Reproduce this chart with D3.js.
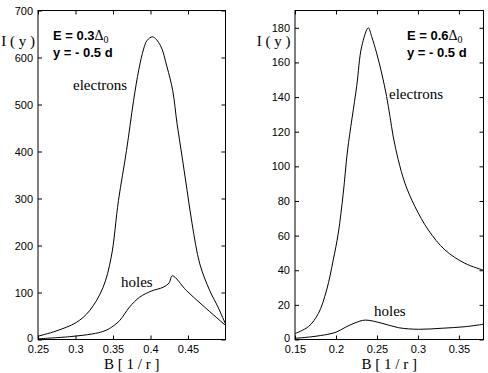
<!DOCTYPE html>
<meta charset="utf-8">
<head>
<script src="https://d3js.org/d3.v7.min.js"></script>
<style>
  body { margin: 0; background: #fff; }
  .tick text { font-family: "Liberation Sans", Arial, sans-serif; font-size: 11px; }
  .serif { font-family: "Liberation Serif", "Times New Roman", serif; font-size: 15px; }
  .bold { font-family: "Liberation Sans", Arial, sans-serif; font-size: 13px; font-weight: bold; }
</style>
</head>
<body>
<svg width="488" height="373"></svg>
<script>
// left panel: E = 0.3 Delta0
var leftElectronsB = [0.25, 0.274, 0.3008, 0.3186, 0.3365, 0.3476, 0.3573, 0.368, 0.3774, 0.3845, 0.3908, 0.3953, 0.4028, 0.4131, 0.422, 0.4296, 0.4354, 0.4422, 0.4488, 0.4555, 0.4657, 0.479, 0.490, 0.5];
var leftElectronsI = [7, 18, 36, 61, 110, 175, 296, 402, 508, 575, 618, 636, 644, 626, 580, 530, 459, 388, 317, 246, 161, 104, 69, 33];
var leftHolesB = [0.25, 0.292, 0.323, 0.3365, 0.345, 0.3587, 0.372, 0.3855, 0.401, 0.4167, 0.4247, 0.4291, 0.448, 0.470, 0.5];
var leftHolesI = [1.5, 6, 12, 17, 23, 40, 69, 90, 103, 111, 120, 135.5, 104, 72, 30];

// right panel: E = 0.6 Delta0
var rightElectronsB = [0.15, 0.1663, 0.1785, 0.1886, 0.1967, 0.2028, 0.2089, 0.2142, 0.2252, 0.2313, 0.2394, 0.2435, 0.2496, 0.2557, 0.2618, 0.2659, 0.2699, 0.276, 0.2841, 0.2963, 0.3126, 0.333, 0.3573, 0.38];
var rightElectronsI = [3.4, 7.4, 15, 28.6, 46, 61.4, 84.5, 109.5, 146, 169, 180, 175, 165.4, 153.9, 140.3, 128.8, 117, 103.8, 90.3, 76.8, 63.3, 51.7, 44, 40];
var rightHolesB = [0.15, 0.1707, 0.19, 0.2, 0.2113, 0.2232, 0.2357, 0.256, 0.2765, 0.3009, 0.3293, 0.3577, 0.38];
var rightHolesI = [0.7, 1.6, 3, 4.2, 7, 9.6, 11.2, 9.4, 6.8, 5.9, 6.5, 7.4, 8.8];

var leftXTicks = [0.25, 0.3, 0.35, 0.4, 0.45];
var leftYTicks = [0, 100, 200, 300, 400, 500, 600, 700];
var rightXTicks = [0.15, 0.2, 0.25, 0.3, 0.35];
var rightYTicks = [0, 20, 40, 60, 80, 100, 120, 140, 160, 180];

var svg = d3.select("svg");

function panel(opt) {
  var x = d3.scaleLinear().domain(opt.xDomain).range([opt.left, opt.right]);
  var y = d3.scaleLinear().domain(opt.yDomain).range([339.5, 10.5]);
  var g = svg.append("g");
  var fmt = function(d) { return String(d); };

  // ticks point inward, matlab style
  g.append("g").attr("transform", "translate(0,339.5)")
    .call(d3.axisBottom(x).tickValues(opt.xTicks).tickSize(-4).tickPadding(6).tickFormat(fmt));
  g.append("g").attr("transform", "translate(0,10.5)")
    .call(d3.axisTop(x).tickValues(opt.xTicks).tickSize(-4).tickFormat(""));
  var yAx = g.append("g").attr("transform", "translate(" + opt.left + ",0)")
    .call(d3.axisLeft(y).tickValues(opt.yTicks).tickSize(-4).tickPadding(5).tickFormat(fmt));
  // lift the zero label a bit so it clears the x labels
  yAx.selectAll(".tick text").filter(function(d) { return d === 0; }).attr("y", -2);
  g.append("g").attr("transform", "translate(" + opt.right + ",0)")
    .call(d3.axisRight(y).tickValues(opt.yTicks).tickSize(-4).tickFormat(""));
  g.selectAll(".domain").remove();
  g.selectAll(".tick line").attr("stroke", "#000");
  g.selectAll(".tick text").attr("fill", "#000");

  g.append("rect")
    .attr("x", opt.left).attr("y", 10.5)
    .attr("width", opt.right - opt.left).attr("height", 329)
    .attr("fill", "none").attr("stroke", "#000");

  var line = d3.line()
    .x(function(d) { return x(d[0]); })
    .y(function(d) { return y(d[1]); })
    .curve(d3.curveCatmullRom.alpha(0.5));

  opt.series.forEach(function(s) {
    g.append("path")
      .datum(d3.zip(s[0], s[1]))
      .attr("d", line)
      .attr("fill", "none")
      .attr("stroke", "#000")
      .attr("stroke-width", 1);
  });

  g.append("text").attr("class", "serif")
    .attr("x", opt.yLabelX).attr("y", 46).attr("text-anchor", "end")
    .text("I ( y )");
  g.append("text").attr("class", "serif")
    .attr("x", (opt.left + opt.right) / 2).attr("y", 369).attr("text-anchor", "middle")
    .text("B [ 1 / r ]");

  var t1 = g.append("text").attr("class", "bold").attr("x", opt.titleX).attr("y", 40);
  t1.append("tspan").text(opt.title);
  t1.append("tspan").attr("class", "serif").style("font-weight", "normal").style("font-size", "14px").text("\u0394");
  t1.append("tspan").attr("class", "serif").style("font-weight", "normal").style("font-size", "10px").attr("dy", 3).text("0");
  g.append("text").attr("class", "bold").attr("x", opt.titleX).attr("y", 57).text("y = - 0.5 d");

  g.append("text").attr("class", "serif").attr("x", opt.elX).attr("y", opt.elY).text("electrons");
  g.append("text").attr("class", "serif").attr("x", opt.hoX).attr("y", opt.hoY).text("holes");
}

panel({
  xDomain: [0.25, 0.5], yDomain: [0, 700], left: 38, right: 225.5,
  xTicks: leftXTicks, yTicks: leftYTicks,
  series: [[leftElectronsB, leftElectronsI], [leftHolesB, leftHolesI]],
  yLabelX: 35, titleX: 53, title: "E = 0.3",
  elX: 73, elY: 90, hoX: 121, hoY: 287
});

panel({
  xDomain: [0.15, 0.38], yDomain: [0, 190], left: 295, right: 483.5,
  xTicks: rightXTicks, yTicks: rightYTicks,
  series: [[rightElectronsB, rightElectronsI], [rightHolesB, rightHolesI]],
  yLabelX: 290.5, titleX: 407, title: "E = 0.6",
  elX: 389, elY: 99, hoX: 374, hoY: 316
});
</script>
</body>
